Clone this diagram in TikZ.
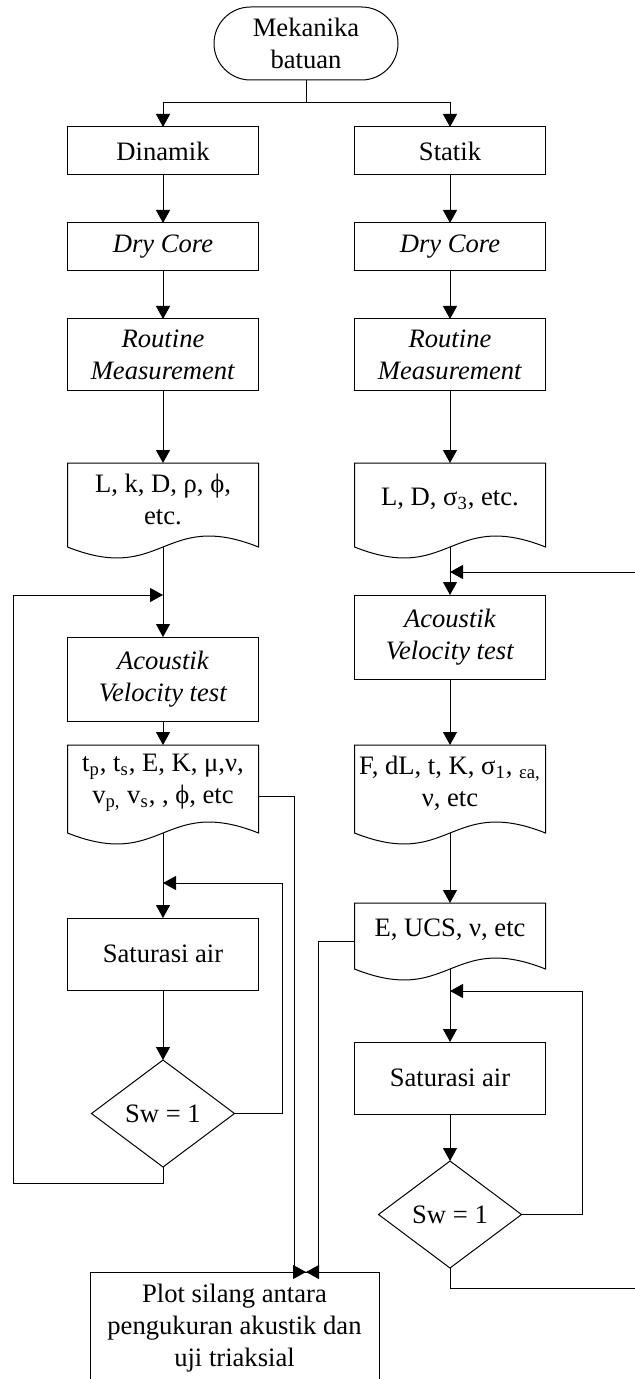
\documentclass[tikz,border=0pt]{standalone}
\usepackage{fontspec}
\setmainfont{Liberation Serif}
\usepackage{tikz}
\usetikzlibrary{shapes.geometric, shapes.misc, positioning, arrows.meta}
\tikzset{
basic/.style={font=\fontsize{13.3pt}{16pt}\selectfont, align=center, inner sep=2pt, outer sep=0}, block/.style={basic, rectangle, draw, minimum width=95.5pt, minimum height=24pt}, term/.style={basic, rounded rectangle, draw, minimum width=96pt, minimum height=36.5pt}, doc/.style={basic, rectangle, minimum width=95.5pt}, decision/.style={basic, diamond, draw, aspect=1.34, minimum width=71.5pt, minimum height=53.5pt, inner sep=0}, >={Triangle[length=6.5pt, width=7pt]}}
\newcommand{\docwave}[1]{\draw (#1.north west) -- (#1.north east) -- ([yshift=-6pt]#1.south east) .. controls ([yshift=13pt]#1.south) and ([yshift=-25pt]#1.south) .. ([yshift=-6pt]#1.south west) -- cycle;
\coordinate (#1-b) at ([yshift=-6pt]#1.south);}

\begin{document}
\begin{tikzpicture}[x=0.5pt, y=0.5pt, line width=0.5pt]
\useasboundingbox (0,0) rectangle (635,-1379);
\node [term] (start) at (306,-43.5) {Mekanika\\batuan};
\node [block] (din) at (163,-151) {Dinamik};
\node [block] (sta) at (450,-151) {Statik};
\node [block, below=24pt of din] (dryL) {\textit{Dry Core}};
\node [block, below=24pt of sta] (dryR) {\textit{Dry Core}};
\node [block, minimum height=36pt, below=24pt of dryL] (rouL) {\textit{Routine}\\\textit{Measurement}};
\node [block, minimum height=36pt, below=24pt of dryR] (rouR) {\textit{Routine}\\\textit{Measurement}};
\node [doc, minimum height=36pt, below=36pt of rouL] (propL) {L, k, D, ρ, ϕ,\\etc.};
\node [doc, minimum height=36pt, below=36pt of rouR] (propR) {L, D, σ\textsubscript{3}, etc.};
\node [block, minimum height=42pt, below=51pt of propL] (acuL) {\textit{Acoustik}\\\textit{Velocity test}};
\node [block, minimum height=42pt, below=30pt of propR] (acuR) {\textit{Acoustik}\\\textit{Velocity test}};
\node [doc, minimum height=38pt, below=12pt of acuL] (velL) {t\textsubscript{p}, t\textsubscript{s}, E, K, μ,ν,\\v\textsubscript{p,} v\textsubscript{s}, , ϕ, etc};
\node [doc, minimum height=38pt, below=33pt of acuR] (triR) {F, dL, t, K, σ\textsubscript{1}, \textsubscript{εa,}\\ν, etc};
\node [block, minimum height=36pt, below=48.5pt of velL] (satL) {Saturasi air};
\node [doc, minimum height=27pt, below=41pt of triR] (ucs) {E, UCS, ν, etc};
\node [block, minimum height=36pt, below=42.5pt of ucs] (satR) {Saturasi air};
\node [decision, below=35pt of satL] (swL) {Sw = 1};
\node [decision, below=23.5pt of satR] (swR) {Sw = 1};
\node [block, minimum width=144.5pt, minimum height=56pt] (plot) at (234.5,-1328) {Plot silang antara\\pengukuran akustik dan\\uji triaksial};
\docwave{propL}
\docwave{propR}
\docwave{velL}
\docwave{triR}
\docwave{ucs}
% loop entries
\coordinate (inL) at ([yshift=21pt]acuL.north);
\coordinate (inR) at ([yshift=11.5pt]acuR.north);
\coordinate (plotin) at ([xshift=35.75pt]plot.north);
\draw [->] (start.south) -- ++(0,-23) -| (din.north);
\draw [->] (start.south) -- ++(0,-23) -| (sta.north);
\draw [->] (din) -- (dryL);
\draw [->] (dryL) -- (rouL);
\draw [->] (rouL) -- (propL);
\draw [->] (propL-b) -- (acuL);
\draw [->] (acuL) -- (velL);
\draw [->] (velL-b) -- (satL);
\draw [->] (satL) -- (swL);
\draw [->] (sta) -- (dryR);
\draw [->] (dryR) -- (rouR);
\draw [->] (rouR) -- (propR);
\draw [->] (propR-b) -- (acuR);
\draw [->] (acuR) -- (triR);
\draw [->] (triR-b) -- (ucs);
\draw [->] (ucs-b) -- (satR);
\draw [->] (satR) -- (swR);
\draw [->] (swL.east) -- ++(48,0) |- ([yshift=17.5pt]satL.north);
\draw [->] (swL.south) -- ++(0,-16) -| ([xshift=-75pt]inL) -- (inL);
\draw [->] (swR.east) -- ++(61,0) |- ([yshift=25.5pt]satR.north);
\draw [->] (swR.south) -- ++(0,-20) -| ([xshift=93.5pt]inR) -- (inR);
\draw [->] ([yshift=-6.5pt]velL.east) -| ([xshift=-6pt]plotin) -- (plotin);
\draw [->] ([yshift=-5.5pt]ucs.west) -| ([xshift=6pt]plotin) -- (plotin);
\end{tikzpicture}
\end{document}
